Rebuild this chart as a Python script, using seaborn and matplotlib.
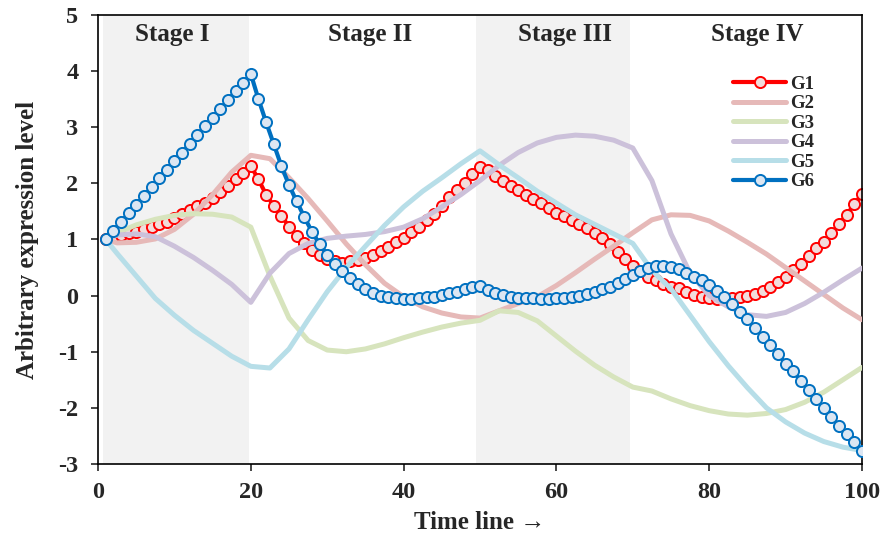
import numpy as np
import pandas as pd
import matplotlib
matplotlib.use("Agg")
import matplotlib.pyplot as plt
import seaborn as sns

# ── data ───
x_mark = np.arange(1, 101)          # G1 / G6 have a marker at every time point
x_line = np.r_[1, np.arange(2.5, 100.1, 2.5)]   # smooth genes sampled every 2.5

g1 = [1.00, 1.05, 1.08, 1.11, 1.14, 1.18, 1.23, 1.27, 1.32, 1.39,
      1.45, 1.52, 1.59, 1.65, 1.74, 1.84, 1.96, 2.07, 2.19, 2.31,
      2.07, 1.80, 1.60, 1.42, 1.23, 1.07, 0.93, 0.81, 0.72, 0.65,
      0.61, 0.59, 0.61, 0.63, 0.67, 0.73, 0.80, 0.87, 0.95, 1.02,
      1.13, 1.23, 1.34, 1.45, 1.60, 1.75, 1.88, 2.01, 2.17, 2.30,
      2.23, 2.13, 2.05, 1.96, 1.88, 1.80, 1.72, 1.65, 1.56, 1.48,
      1.41, 1.34, 1.27, 1.20, 1.11, 1.02, 0.92, 0.78, 0.65, 0.52,
      0.43, 0.34, 0.27, 0.20, 0.16, 0.13, 0.07, 0.01, -0.02, -0.05,
      -0.06, -0.06, -0.05, -0.03, -0.01, 0.03, 0.09, 0.16, 0.25, 0.34,
      0.45, 0.56, 0.70, 0.84, 0.96, 1.11, 1.28, 1.44, 1.63, 1.81]

g6 = [1.00, 1.16, 1.31, 1.47, 1.62, 1.78, 1.93, 2.09, 2.24, 2.40,
      2.55, 2.71, 2.86, 3.02, 3.17, 3.33, 3.48, 3.64, 3.79, 3.95,
      3.50, 3.09, 2.70, 2.31, 1.97, 1.68, 1.40, 1.14, 0.92, 0.73,
      0.57, 0.43, 0.31, 0.21, 0.12, 0.05, 0.00, -0.03, -0.05, -0.06,
      -0.06, -0.05, -0.03, -0.02, 0.01, 0.04, 0.07, 0.11, 0.15, 0.18,
      0.10, 0.05, 0.01, -0.02, -0.04, -0.05, -0.05, -0.06, -0.06, -0.05,
      -0.04, -0.03, 0.00, 0.03, 0.07, 0.11, 0.16, 0.23, 0.30, 0.37,
      0.44, 0.49, 0.52, 0.53, 0.51, 0.47, 0.41, 0.34, 0.27, 0.19,
      0.09, -0.03, -0.15, -0.29, -0.42, -0.58, -0.73, -0.88, -1.04, -1.21,
      -1.35, -1.52, -1.68, -1.84, -2.01, -2.16, -2.32, -2.47, -2.61, -2.77]

g2 = [1.00, 0.94, 0.95, 1.01, 1.18, 1.45, 1.80, 2.20, 2.50, 2.44,
      2.10, 1.73, 1.33, 0.92, 0.55, 0.22, -0.02, -0.20, -0.31, -0.38,
      -0.40, -0.27, -0.14, -0.02, 0.18, 0.41, 0.65, 0.88, 1.12, 1.35,
      1.44, 1.43, 1.33, 1.15, 0.95, 0.74, 0.50, 0.26, 0.02, -0.22, -0.43]

g3 = [1.00, 1.12, 1.26, 1.36, 1.43, 1.46, 1.45, 1.40, 1.22, 0.35,
      -0.40, -0.80, -0.97, -1.00, -0.95, -0.86, -0.75, -0.65, -0.56, -0.49,
      -0.44, -0.27, -0.30, -0.45, -0.72, -0.99, -1.24, -1.45, -1.63, -1.70,
      -1.84, -1.96, -2.05, -2.11, -2.13, -2.10, -2.03, -1.90, -1.72, -1.50, -1.28]

g4 = [1.00, 1.08, 1.10, 1.05, 0.88, 0.68, 0.45, 0.20, -0.12, 0.40,
      0.75, 0.93, 1.02, 1.06, 1.09, 1.14, 1.22, 1.37, 1.58, 1.80,
      2.05, 2.32, 2.55, 2.72, 2.82, 2.86, 2.84, 2.77, 2.63, 2.05,
      1.10, 0.40, 0.00, -0.20, -0.34, -0.37, -0.30, -0.14, 0.06, 0.28, 0.49]

g5 = [1.00, 0.75, 0.35, -0.05, -0.35, -0.62, -0.85, -1.08, -1.26, -1.29,
      -0.95, -0.43, 0.07, 0.50, 0.88, 1.25, 1.58, 1.86, 2.10, 2.35,
      2.58, 2.33, 2.10, 1.86, 1.65, 1.44, 1.27, 1.10, 0.93, 0.45,
      0.12, -0.35, -0.82, -1.25, -1.64, -2.00, -2.25, -2.45, -2.60, -2.70, -2.76]

stages = ["Stage I", "Stage II", "Stage III", "Stage IV"]
stage_x = [9.7, 35.6, 61.1, 86.3]
bands = [(0.6, 19.7), (49.5, 69.6)]

# ── style ───
sns.set_style("ticks")
plt.rcParams['font.family'] = ['Liberation Serif', 'DejaVu Serif']
plt.rcParams['font.weight'] = 'bold'
plt.rcParams['axes.linewidth'] = 1.2

fig = plt.figure(figsize=(8.88, 5.44), dpi=100)
ax = fig.add_axes([0.1104, 0.1471, 0.8603, 0.8253])

for a, b in bands:
    ax.axvspan(a, b, color='#F2F2F2', lw=0, zorder=0)

mk = dict(marker='o', markersize=8, markeredgewidth=1.4)

sns.lineplot(x=x_mark, y=g1, ax=ax, color='#FF0000', linewidth=3,
             markerfacecolor='#F2DCDB', markeredgecolor='#FF0000',
             label='G1', zorder=2, **mk)
sns.lineplot(x=x_line, y=g2, ax=ax, color='#E6B9B8', linewidth=3.6,
             label='G2', zorder=3)
sns.lineplot(x=x_line, y=g3, ax=ax, color='#D7E4BD', linewidth=3.6,
             label='G3', zorder=3)
sns.lineplot(x=x_line, y=g4, ax=ax, color='#CCC1DA', linewidth=3.6,
             label='G4', zorder=3)
sns.lineplot(x=x_line, y=g5, ax=ax, color='#B7DEE8', linewidth=3.6,
             label='G5', zorder=3)
sns.lineplot(x=x_mark, y=g6, ax=ax, color='#0070C0', linewidth=3,
             markerfacecolor='#DCE6F2', markeredgecolor='#0070C0',
             label='G6', zorder=4, **mk)

for name, sx in zip(stages, stage_x):
    ax.text(sx, 4.66, name, ha='center', va='center', fontsize=18,
            fontweight='bold')

ax.set_xlim(0, 100)
ax.set_ylim(-3, 5)
ax.set_xticks(range(0, 101, 20))
ax.set_yticks(range(-3, 6))
ax.set_yticklabels([str(v) for v in range(-3, 6)])
ax.tick_params(axis='both', labelsize=17.5, direction='out', length=5,
               width=1.2, top=False, right=False)
ax.tick_params(axis='y', pad=9)
ax.tick_params(axis='x', pad=8)
for lab in ax.get_xticklabels() + ax.get_yticklabels():
    lab.set_fontweight('bold')
for side in ['top', 'right', 'left', 'bottom']:
    ax.spines[side].set_visible(True)
    ax.spines[side].set_color('black')

ax.set_xlabel("Time line \u2192", fontsize=18, fontweight='bold', labelpad=6)
ax.set_ylabel("Arbitrary expression level", fontsize=18, fontweight='bold',
              labelpad=14)

leg = ax.legend(loc='upper left', bbox_to_anchor=(0.822, 0.882), frameon=False,
                fontsize=13.5, handlelength=2.8, handletextpad=0.2,
                labelspacing=0.13, borderaxespad=0)
for t in leg.get_texts():
    t.set_fontweight('bold')

fig.savefig("out.png", dpi=100)
